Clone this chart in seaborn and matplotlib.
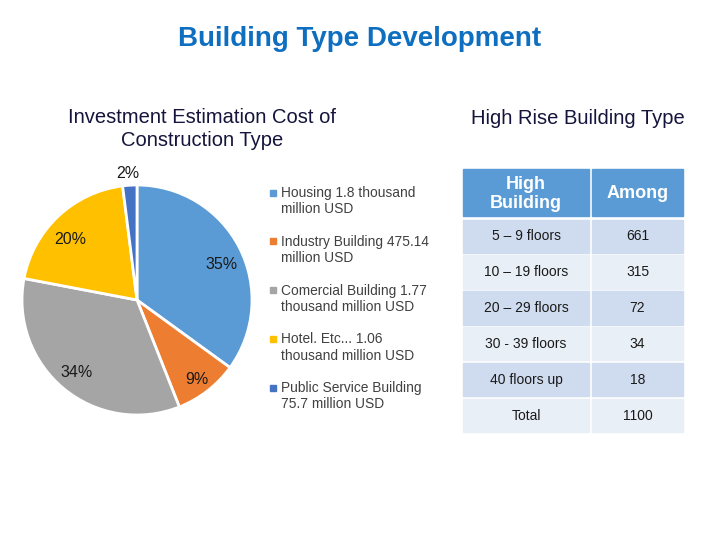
import matplotlib
matplotlib.use("Agg")
import matplotlib.pyplot as plt
import seaborn as sns
from matplotlib.patches import Rectangle

# pie data (shares as printed on the slices)
sectors = ["Housing 1.8 thousand\nmillion USD",
           "Industry Building 475.14\nmillion USD",
           "Comercial Building 1.77\nthousand million USD",
           "Hotel. Etc... 1.06\nthousand million USD",
           "Public Service Building\n75.7 million USD"]
shares = [35, 9, 34, 20, 2]
sector_colors = ["#5B9BD5", "#ED7D31", "#A5A5A5", "#FFC000", "#4472C4"]

# table data
floors = ["5 \u2013 9 floors", "10 \u2013 19 floors", "20 \u2013 29 floors",
          "30 - 39 floors", "40 floors up", "Total"]
counts = [661, 315, 72, 34, 18, 1100]

sns.set_style("white")
plt.rcParams["font.family"] = ["Liberation Sans", "DejaVu Sans"]
palette = sns.color_palette(sector_colors)

W, H = 720, 540
fig = plt.figure(figsize=(7.2, 5.4), dpi=100)

# overlay axes in pixel coordinates for texts, legend and table
ov = fig.add_axes([0, 0, 1, 1])
ov.set_xlim(0, W)
ov.set_ylim(H, 0)
ov.axis("off")

ov.text(360, 39, "Building Type Development", ha="center", va="center",
        fontsize=20, fontweight="bold", color="#0E6EC0")
ov.text(202, 129, "Investment Estimation Cost of\nConstruction Type", ha="center",
        va="center", fontsize=14.5, color="#14143C", linespacing=1.3)
ov.text(578, 118, "High Rise Building Type", ha="center", va="center",
        fontsize=14.5, color="#14143C")

# pie
cx, cy, r = 137, 300, 115
pax = fig.add_axes([(cx - r) / W, 1 - (cy + r) / H, 2 * r / W, 2 * r / H])
wedges, _, pct_texts = pax.pie(shares, colors=palette, startangle=90, counterclock=False,
                               autopct="%d%%", pctdistance=0.82,
                               wedgeprops=dict(edgecolor="white", linewidth=2),
                               textprops=dict(fontsize=11.5, color="#1A1A1A"))
# nudge labels to where the original puts them
for t, (dx, dy) in zip(pct_texts, [(0, -0.06), (0.02, -0.04), (0, 0), (-0.02, -0.07), (0, 0)]):
    x, y = t.get_position()
    t.set_position((x + dx, y + dy))
pct_texts[4].set_position((-0.08, 1.1))
pax.set_xlim(-1.0, 1.0)
pax.set_ylim(-1.0, 1.0)
pax.set_aspect("equal")

# legend (manual, wrapped labels)
for i, (lab, col) in enumerate(zip(sectors, palette)):
    y = 193 + i * 48.8
    ov.add_patch(Rectangle((270, y - 3.5), 6, 6, color=col))
    ov.text(281, y + 8, lab, ha="left", va="center", fontsize=9.9,
            color="#404040", linespacing=1.2)

# table
col_x = [(463, 589), (592, 683)]
ov.add_patch(Rectangle((col_x[0][0], 169), col_x[0][1] - col_x[0][0], 47, color="#5B9BD5"))
ov.add_patch(Rectangle((col_x[1][0], 169), col_x[1][1] - col_x[1][0], 47, color="#5B9BD5"))
ov.text(sum(col_x[0]) / 2, 194, "High\nBuilding", ha="center", va="center",
        fontsize=13, fontweight="bold", color="white", linespacing=1.15)
ov.text(sum(col_x[1]) / 2, 193, "Among", ha="center", va="center",
        fontsize=13, fontweight="bold", color="white")
for i, (fl, n) in enumerate(zip(floors, counts)):
    top = 219.5 + i * 35.8
    fill = "#CFDBEE" if i % 2 == 0 else "#E9EFF7"
    for (x0, x1), txt in zip(col_x, [fl, str(n)]):
        ov.add_patch(Rectangle((x0, top), x1 - x0, 33.5, color=fill))
        ov.text((x0 + x1) / 2, top + 17, txt, ha="center", va="center",
                fontsize=10, color="#1A1A1A")

fig.savefig("out.png", dpi=100)
